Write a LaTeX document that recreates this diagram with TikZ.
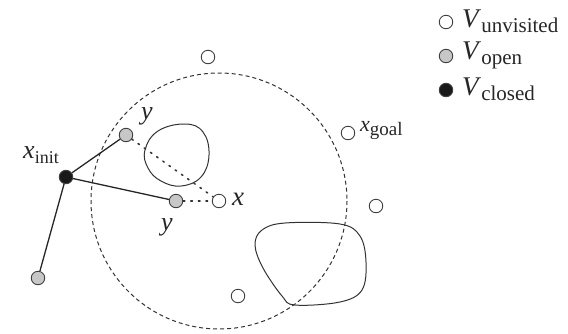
\documentclass[tikz,border=0pt]{standalone}
\usepackage{fontspec}
\setmainfont{Liberation Serif}
\newcommand{\mylab}[5]{{\fontsize{#1}{#1}\selectfont\textit{#2}}\raisebox{-#5}{\fontsize{#3}{#3}\selectfont #4}}
\begin{document}
\begin{tikzpicture}[x=1pt,y=-1pt,
  vert/.style={circle, draw=black!75, line width=0.9pt, minimum size=13.5pt, inner sep=0pt},
  unv/.style={vert, fill=white},
  opn/.style={vert, fill=black!22},
  cls/.style={vert, fill=black!90},
  edge/.style={line width=1.3pt, draw=black!85},
  dots/.style={line width=1.6pt, draw=black!80, dash pattern=on 1.6pt off 6pt, line cap=round},
  obst/.style={line width=1pt, draw=black!80},
  txt/.style={inner sep=0pt, text=black!85}]
\useasboundingbox (0,0) rectangle (568,333);
% ball
\draw[line width=1pt, black!80, dash pattern=on 4pt off 3pt] (219,201) circle[radius=128];
% obstacles
\draw[obst] plot[smooth cycle, tension=0.7] coordinates {(145,150) (158,131) (185,124) (203,132) (209,155) (201,177) (181,186) (161,181) (148,168)};
\draw[obst] plot[smooth cycle, tension=0.6] coordinates {(262,230) (285,223) (340,224) (360,236) (366,262) (362,290) (340,302) (295,305) (282,296) (263,268) (255,245)};
% vertices
\node[unv] (u1) at (208,57) {};
\node[opn] (ya) at (126,135) {};
\node[cls] (xi) at (66,177) {};
\node[opn] (yb) at (176,201) {};
\node[unv] (x) at (219,201) {};
\node[opn] (yc) at (38,278) {};
\node[unv] (u2) at (238,296) {};
\node[unv] (xg) at (348,133) {};
\node[unv] (u3) at (376,206) {};
% edges
\draw[edge] (xi) -- (ya);
\draw[edge] (xi) -- (yb);
\draw[edge] (xi) -- (yc);
\draw[dots] (ya) -- (x);
\draw[dots] (yb) -- (x);
% labels
\node[txt] (lxi) at (41,155) {\mylab{26}{x}{18}{init}{5pt}};
\node[txt] (lya) at (147,116) {\fontsize{26}{26}\selectfont\textit{y}};
\node[txt] (lyb) at (167,227) {\fontsize{26}{26}\selectfont\textit{y}};
\node[txt] (lx) at (238,199) {\fontsize{27}{27}\selectfont\textit{x}};
\node[txt, anchor=west] (lxg) at (360,130) {\mylab{22}{x}{19}{goal}{4pt}};
% legend
\node[unv] (l1) at (446,22) {};
\node[opn] (l2) at (446,56) {};
\node[cls] (l3) at (446,90) {};
\node[txt, anchor=west] (t1) at (462,21) {\mylab{27}{V}{21}{unvisited}{5pt}};
\node[txt, anchor=west] (t2) at (462,55) {\mylab{27}{V}{21}{open}{5pt}};
\node[txt, anchor=west] (t3) at (462,89) {\mylab{27}{V}{21}{closed}{5pt}};
\end{tikzpicture}
\end{document}
